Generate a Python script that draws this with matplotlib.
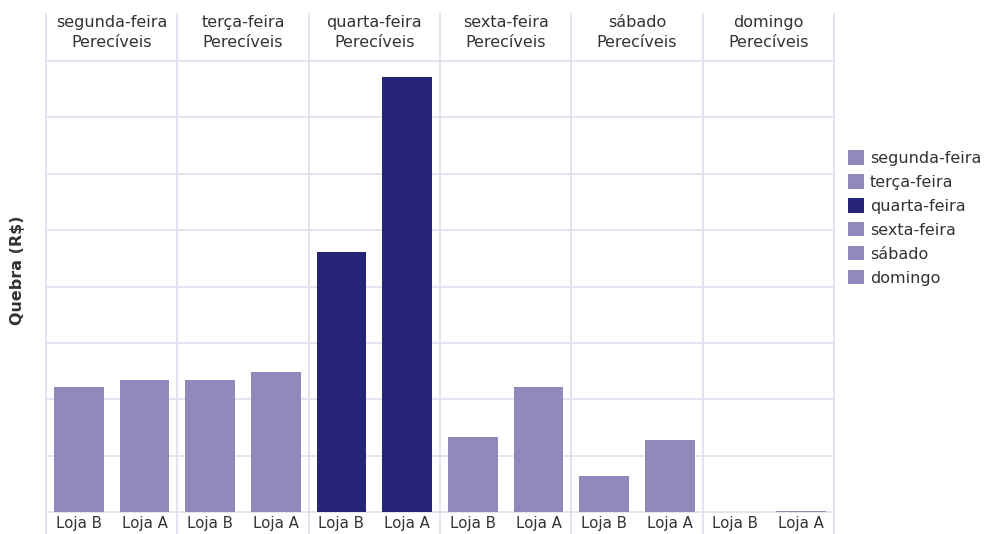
import numpy as np
import matplotlib.pyplot as plt
from matplotlib.lines import Line2D
from matplotlib.patches import Patch

plt.rcParams["font.family"] = ["DejaVu Sans"]

# weekly losses per store (Perecíveis)
days = ["segunda-feira", "terça-feira", "quarta-feira", "sexta-feira", "sábado", "domingo"]
stores = ["Loja B", "Loja A"]
loja_b = [2.22, 2.34, 4.62, 1.33, 0.64, 0.0]
loja_a = [2.34, 2.49, 7.71, 2.22, 1.28, 0.02]
day_colors = ["#9089bb", "#9089bb", "#262477", "#9089bb", "#9089bb", "#9089bb"]

grid_col = "#e3e1f0"
text_col = "#333333"

fig = plt.figure(figsize=(9.86, 5.34), dpi=100)
left, right = 46 / 986, 834 / 986
bottom, top = 1 - 512 / 534, 1 - 61 / 534
n = len(days)
w = (right - left) / n

for i, day in enumerate(days):
    ax = fig.add_axes([left + i * w, bottom, w, top - bottom])
    vals = [loja_b[i], loja_a[i]]
    ax.bar(np.arange(2), vals, width=0.76, color=day_colors[i], zorder=3)
    ax.set_xlim(-0.5, 1.5)
    ax.set_ylim(0, 8)
    ax.set_yticks(np.arange(0, 9))
    ax.set_yticklabels([])
    ax.yaxis.grid(True, color=grid_col, linewidth=1.3, zorder=0)
    for gl in ax.get_ygridlines():
        gl.set_clip_on(False)
    ax.tick_params(axis="both", length=0)
    ax.set_xticks(np.arange(2))
    ax.set_xticklabels(stores, fontsize=10.8, color=text_col)
    ax.tick_params(axis="x", pad=3)
    for s in ax.spines.values():
        s.set_visible(False)
    ax.set_title(day + "\nPerecíveis", fontsize=11.5, color=text_col,
                 linespacing=1.45, pad=10)

# panel separators run from the header down past the store labels
for i in range(n + 1):
    x = left + i * w
    fig.add_artist(Line2D([x, x], [0, 1 - 14 / 534], color=grid_col,
                          linewidth=1.3, transform=fig.transFigure))

fig.text(18 / 986, 1 - 270 / 534, "Quebra (R$)", rotation=90, ha="center",
         va="center", fontsize=11.5, fontweight="bold", color=text_col)

handles = [Patch(facecolor=c, edgecolor="none") for c in day_colors]
fig.legend(handles, days, loc="upper left", bbox_to_anchor=(842 / 986, 1 - 144 / 534),
           frameon=False, fontsize=11.5, handlelength=1.0, handleheight=1.0,
           handletextpad=0.35, labelspacing=0.52, borderaxespad=0,
           labelcolor=text_col)

fig.savefig("out.png", dpi=100)
